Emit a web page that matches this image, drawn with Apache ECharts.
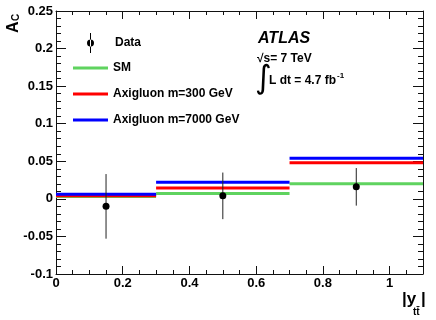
<!DOCTYPE html>
<html>
<head>
<meta charset="utf-8">
<script src="https://cdn.jsdelivr.net/npm/echarts@6/dist/echarts.min.js"></script>
<style>
html,body{margin:0;padding:0;background:#fff;}
#chart{width:436px;height:320px;}
</style>
</head>
<body>
<div id="chart"></div>
<script>
// ---- data ----
const binEdges = [0, 0.3, 0.7, 1.1];
const binCenters = [0.15, 0.5, 0.9];
const dataAc = [-0.010, 0.004, 0.016];
const dataErr = [0.043, 0.031, 0.025];
const smAc = [0.003, 0.007, 0.020];
const axi300Ac = [0.004, 0.0145, 0.048];
const axi7000Ac = [0.006, 0.022, 0.054];
const xTicks = [0, 0.2, 0.4, 0.6, 0.8, 1];
const yTicks = [-0.1, -0.05, 0, 0.05, 0.1, 0.15, 0.2, 0.25];

const FONT = 'Liberation Sans, Arial, Helvetica, sans-serif';

function histItems(vals) {
  return vals.map((v, i) => [binEdges[i], binEdges[i + 1], v]);
}
function hline(params, api) {
  const p0 = api.coord([api.value(0), api.value(2)]);
  const p1 = api.coord([api.value(1), api.value(2)]);
  return {
    type: 'line',
    shape: { x1: p0[0], y1: p0[1], x2: p1[0], y2: p1[1] },
    style: { stroke: api.visual('color'), lineWidth: 3 }
  };
}
function errbar(params, api) {
  const p0 = api.coord([api.value(0), api.value(1)]);
  const p1 = api.coord([api.value(0), api.value(2)]);
  return {
    type: 'line',
    shape: { x1: p0[0], y1: p0[1], x2: p1[0], y2: p1[1] },
    style: { stroke: '#222', lineWidth: 1 }
  };
}

const axisLineStyle = { color: '#111', width: 1 };
function xAx(pos, labels) {
  return {
    type: 'value', position: pos, min: 0, max: 1.1, interval: 0.2,
    axisLine: { show: true, onZero: false, lineStyle: axisLineStyle },
    axisTick: { show: true, inside: true, length: 8, lineStyle: axisLineStyle },
    minorTick: { show: true, splitNumber: 4, length: 4, lineStyle: axisLineStyle },
    splitLine: { show: false },
    axisLabel: labels ? {
      show: true, margin: 3, color: '#000', fontFamily: FONT, fontWeight: 'bold', fontSize: 13,
      showMaxLabel: false,
      formatter: v => (xTicks.some(t => Math.abs(t - v) < 1e-9) ? String(+v.toFixed(2)) : '')
    } : { show: false }
  };
}
function yAx(pos, labels) {
  return {
    type: 'value', position: pos, min: -0.1, max: 0.25, interval: 0.05,
    axisLine: { show: true, onZero: false, lineStyle: axisLineStyle },
    axisTick: { show: true, inside: true, length: 10, lineStyle: axisLineStyle },
    minorTick: { show: true, splitNumber: 5, length: 5, lineStyle: axisLineStyle },
    splitLine: { show: false },
    axisLabel: labels ? {
      show: true, margin: 3, color: '#000', fontFamily: FONT, fontWeight: 'bold', fontSize: 13,
      formatter: v => (yTicks.some(t => Math.abs(t - v) < 1e-9) ? String(+v.toFixed(2)) : '')
    } : { show: false }
  };
}

const legendText = { color: '#000', fontFamily: FONT, fontWeight: 'bold', fontSize: 12 };
function lineLegend(name, top) {
  return {
    data: [{ name: name, icon: 'rect' }], left: 73, top: top, padding: 0,
    itemWidth: 35, itemHeight: 3, selectedMode: false, textStyle: legendText
  };
}

const chart = echarts.init(document.getElementById('chart'), null, { renderer: 'canvas' });
chart.setOption({
  animation: false,
  backgroundColor: '#fff',
  grid: { left: 56, right: 13, top: 11, bottom: 46, containLabel: false },
  xAxis: [xAx('bottom', true), xAx('top', false)],
  yAxis: [yAx('left', true), yAx('right', false)],
  legend: [
    {
      data: [{ name: 'Data', icon: 'path://M0,0 M35,20 M17,0 L18,0 L18,20 L17,20 Z M21,10 A3.5,3.5 0 1 0 14,10 A3.5,3.5 0 1 0 21,10 Z' }],
      left: 73, top: 33, padding: 0, itemWidth: 35, itemHeight: 20, selectedMode: false,
      textStyle: Object.assign({}, legendText, { padding: [0, 0, 0, 2] })
    },
    lineLegend('SM', 62),
    lineLegend('Axigluon m=300 GeV', 88),
    lineLegend('Axigluon m=7000 GeV', 114)
  ],
  series: [
    { name: 'SM', type: 'custom', renderItem: hline, data: histItems(smAc),
      encode: { x: [0, 1], y: 2 }, itemStyle: { color: '#5fd35f' }, z: 2 },
    { name: 'Axigluon m=300 GeV', type: 'custom', renderItem: hline, data: histItems(axi300Ac),
      encode: { x: [0, 1], y: 2 }, itemStyle: { color: '#ff0000' }, z: 3 },
    { name: 'Axigluon m=7000 GeV', type: 'custom', renderItem: hline, data: histItems(axi7000Ac),
      encode: { x: [0, 1], y: 2 }, itemStyle: { color: '#0000ff' }, z: 4 },
    { name: 'Data err', type: 'custom', renderItem: errbar,
      data: binCenters.map((x, i) => [x, dataAc[i] - dataErr[i], dataAc[i] + dataErr[i]]),
      encode: { x: 0, y: [1, 2] }, itemStyle: { color: '#222' }, z: 5 },
    { name: 'Data', type: 'scatter', symbol: 'circle', symbolSize: 7,
      data: binCenters.map((x, i) => [x, dataAc[i]]),
      itemStyle: { color: '#000', opacity: 1 }, z: 6 }
  ],
  graphic: [
    { type: 'text', left: 258, top: 31, style: { text: 'ATLAS', font: 'italic bold 16px ' + FONT, fill: '#000' } },
    { type: 'text', left: 257, top: 53, style: { text: '\u221As= 7 TeV', font: 'bold 12px ' + FONT, fill: '#000' } },
    { type: 'text', left: 255, top: 64, style: { text: '\u222B', font: '32px "DejaVu Sans", ' + FONT, fill: '#000' } },
    { type: 'text', left: 269, top: 75, style: { text: 'L dt = 4.7 fb', font: 'bold 12px ' + FONT, fill: '#000' } },
    { type: 'text', left: 337, top: 72, style: { text: '-1', font: 'bold 8px ' + FONT, fill: '#000' } },
    // y-axis title A_C (rotated)
    { type: 'text', x: 6, y: 33, rotation: Math.PI / 2,
      style: { text: 'A', font: 'bold 16px ' + FONT, fill: '#000', align: 'left', verticalAlign: 'top' } },
    { type: 'text', x: 11, y: 21, rotation: Math.PI / 2,
      style: { text: 'C', font: 'bold 10px ' + FONT, fill: '#000', align: 'left', verticalAlign: 'top' } },
    // x-axis title |y_tt|
    { type: 'text', left: 402, top: 291, style: { text: '|y', font: 'bold 17px ' + FONT, fill: '#000' } },
    { type: 'text', left: 413, top: 307, style: { text: 'tt\u0304', font: 'bold 10px ' + FONT, fill: '#000' } },
    { type: 'text', left: 421, top: 291, style: { text: '|', font: 'bold 17px ' + FONT, fill: '#000' } }
  ]
});
</script>
</body>
</html>
